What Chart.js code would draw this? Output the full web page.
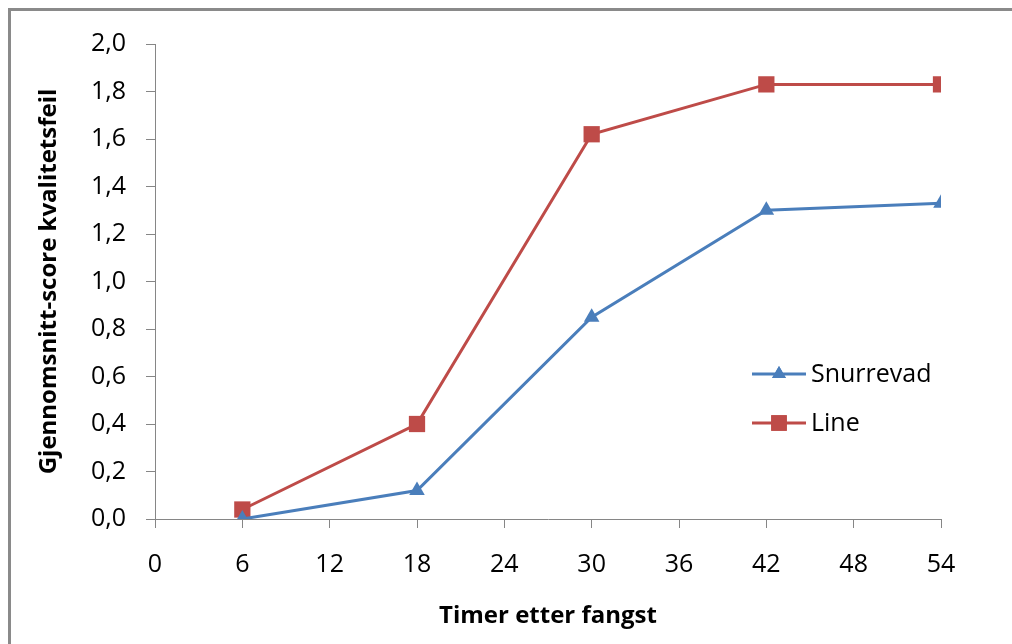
<!DOCTYPE html>
<html><head><meta charset="utf-8">
<script src="https://cdn.jsdelivr.net/npm/chart.js@4.4.1/dist/chart.umd.min.js"></script>
<style>
html,body{margin:0;padding:0;background:#fff;overflow:hidden;}
#wrap{position:absolute;left:0;top:0;width:1012px;height:644px;}
</style></head>
<body>
<div id="wrap"><canvas id="c" width="1012" height="644"></canvas></div>
<script>
const hours = [6, 18, 30, 42, 54];
const snurrevad = [0.0, 0.12, 0.85, 1.30, 1.33];
const line = [0.04, 0.40, 1.62, 1.83, 1.83];
const seriesNames = ['Snurrevad', 'Line'];
const xTitle = 'Timer etter fangst';
const yTitle = 'Gjennomsnitt-score kvalitetsfeil';

const FONT = '"Open Sans", "Noto Sans", sans-serif';
const blue = '#4a7ebb', red = '#be4b48', axisGray = '#868686';

const framePlugin = {
  id: 'frame',
  beforeDraw(chart) {
    const ctx = chart.ctx;
    ctx.save();
    ctx.strokeStyle = '#8a8a8a';
    ctx.lineWidth = 3;
    ctx.strokeRect(9.5, 9.5, 2000, 2000);
    ctx.restore();
  }
};

const legendPlugin = {
  id: 'inlegend',
  afterDraw(chart) {
    const ctx = chart.ctx;
    const items = [
      {name: seriesNames[0], color: blue, style: 'triangle', y: 374},
      {name: seriesNames[1], color: red, style: 'rect', y: 423}
    ];
    ctx.save();
    items.forEach(it => {
      ctx.strokeStyle = it.color; ctx.lineWidth = 3;
      ctx.beginPath(); ctx.moveTo(752, it.y); ctx.lineTo(806, it.y); ctx.stroke();
      ctx.fillStyle = it.color;
      Chart.helpers.drawPoint(ctx, {pointStyle: it.style, radius: it.style === 'rect' ? 11 : 8, rotation: 0, borderWidth: 0}, 779, it.y);
      ctx.fill();
      ctx.fillStyle = '#000';
      ctx.font = '25px ' + FONT;
      ctx.textBaseline = 'middle';
      ctx.fillText(it.name, 811, it.y + 1);
    });
    ctx.restore();
  }
};

new Chart(document.getElementById('c'), {
  type: 'line',
  data: {
    datasets: [
      {label: seriesNames[0], data: hours.map((h,i)=>({x:h,y:snurrevad[i]})), borderColor: blue, backgroundColor: blue,
       borderWidth: 3, pointStyle: 'triangle', pointRadius: 9, pointBorderWidth: 0, pointHoverRadius: 9, tension: 0},
      {label: seriesNames[1], data: hours.map((h,i)=>({x:h,y:line[i]})), borderColor: red, backgroundColor: red,
       borderWidth: 3, pointStyle: 'rect', pointRadius: 11.5, pointBorderWidth: 0, pointHoverRadius: 11.5, tension: 0}
    ]
  },
  options: {
    responsive: false, animation: false, devicePixelRatio: 1,
    layout: {padding: {top: 44, right: 71, left: 0, bottom: 0}},
    plugins: {legend: {display: false}, tooltip: {enabled: false}},
    scales: {
      x: {
        type: 'linear', min: 0, max: 54,
        ticks: {stepSize: 6, color: '#000', font: {family: FONT, size: 25}, padding: 22, maxRotation: 0},
        grid: {drawOnChartArea: false, drawTicks: true, tickLength: 9, color: axisGray, lineWidth: 1},
        border: {color: axisGray, width: 1},
        title: {display: true, text: xTitle, color: '#000', font: {family: FONT, size: 24, weight: 'bold'}, padding: {top: 0, bottom: 13}},
        afterFit(s) { s.height = 125; }
      },
      y: {
        min: 0, max: 2.0,
        ticks: {stepSize: 0.2, color: '#000', font: {family: FONT, size: 25}, padding: 20,
                callback: v => v.toFixed(1).replace('.', ',')},
        grid: {drawOnChartArea: false, drawTicks: true, tickLength: 9, color: axisGray, lineWidth: 1},
        border: {color: axisGray, width: 1},
        title: {display: true, text: yTitle, color: '#000', font: {family: FONT, size: 24, weight: 'bold'}, padding: {top: 35, bottom: 0}},
        afterFit(s) { s.width = 155; }
      }
    }
  },
  plugins: [framePlugin, legendPlugin]
});
</script>
</body></html>
